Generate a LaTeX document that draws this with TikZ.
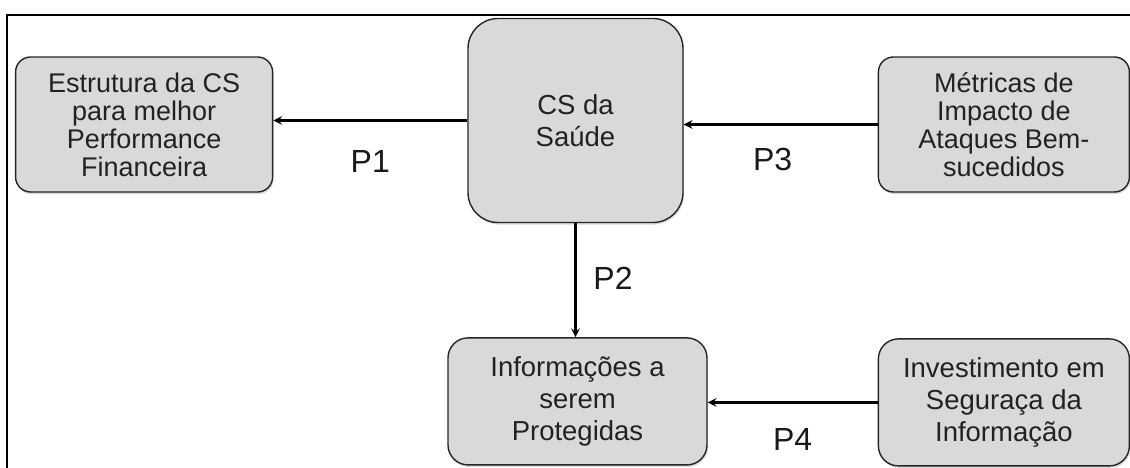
\documentclass[tikz,border=0pt]{standalone}
\usepackage{fontspec}
\setmainfont{Liberation Sans}
\usepackage{xcolor}
\usepackage{tikz}
\usetikzlibrary{arrows,positioning,shadows}
\definecolor{cinzacaixa}{HTML}{D9D9D9}
\definecolor{cinzatexto}{HTML}{222222}

\begin{document}
\begin{tikzpicture}[x=1pt, y=-1pt, >=stealth, node distance=100pt]
    \tikzstyle{caixa}=[draw=black!85, fill=cinzacaixa, text=cinzatexto, line width=1.4pt,
        rounded corners=15pt, align=center, inner sep=0pt,
        font=\fontsize{27.5}{32}\selectfont,
        drop shadow={shadow xshift=1pt, shadow yshift=-2pt, opacity=0.3}]
    \tikzstyle{apertada}=[font=\fontsize{27}{28}\selectfont]
    \tikzstyle{seta}=[->, line width=2.8pt, black]
    \tikzstyle{rotulo}=[font=\fontsize{32}{36}\selectfont, text=black!90, inner sep=0pt]

    \useasboundingbox (0,0) rectangle (1130,468);

    % Moldura
    \draw[line width=2.2pt] (7,470) -- (7,15) -- (1132,15);

    % Caixa central
    \node[caixa, rounded corners=30pt, minimum width=215pt, minimum height=204pt]
        (cs) at (575.5,120.5) {CS da\\Saúde};

    % Caixas em volta
    \node[caixa, apertada, minimum width=257pt, minimum height=135pt]
        (estrutura) [left=194pt of cs, yshift=-4pt]
        {Estrutura da CS\\para melhor\\Performance\\Financeira};
    \node[caixa, apertada, minimum width=251pt, minimum height=135pt]
        (metricas) [right=194pt of cs, yshift=-4pt]
        {Métricas de\\Impacto de\\Ataques Bem-\\sucedidos};
    \node[caixa, rounded corners=20pt, minimum width=259pt, minimum height=127pt]
        (informacoes) [below=114pt of cs, xshift=2pt]
        {Informações a\\serem\\Protegidas};
    \node[caixa, rounded corners=20pt, minimum width=251pt, minimum height=127pt]
        (investimento) [right=170pt of informacoes, yshift=-1pt]
        {Investimento em\\Seguraça da\\Informação};

    % Setas
    \draw[seta] (cs.west) -- (cs.west -| estrutura.east)
        node[rotulo, midway, yshift=-41pt] (p1) {P1};
    \draw[seta] (cs.south) -- (cs.south |- informacoes.north)
        node[rotulo, midway, xshift=37.5pt, yshift=2pt] (p2) {P2};
    \draw[seta] (metricas.west) -- (metricas.west -| cs.east)
        node[rotulo, midway, xshift=-8pt, yshift=-35pt] (p3) {P3};
    \draw[seta] (investimento.west) -- (investimento.west -| informacoes.east)
        node[rotulo, midway, yshift=-37pt] (p4) {P4};
\end{tikzpicture}
\end{document}
